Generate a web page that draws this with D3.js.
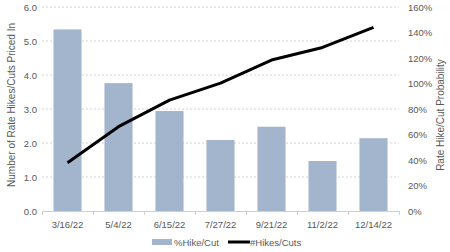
<!DOCTYPE html>
<html>
<head>
<meta charset="utf-8">
<script src="https://cdn.jsdelivr.net/npm/d3@7"></script>
<style>
  body { margin: 0; background: #fff; }
  text { font-family: "Liberation Sans", Arial, sans-serif; fill: #595959; }
</style>
</head>
<body>
<div id="chart"></div>
<script>
// meeting dates
var dates = ["3/16/22", "5/4/22", "6/15/22", "7/27/22", "9/21/22", "11/2/22", "12/14/22"];
// %Hike/Cut (right axis)
var hikePct = [142.4, 100.3, 78.4, 55.7, 66.1, 39.2, 57.1];
// #Hikes/Cuts (left axis)
var hikeCount = [1.42, 2.48, 3.26, 3.76, 4.44, 4.81, 5.40];
var leftTicks = [0, 1, 2, 3, 4, 5, 6];
var rightTicks = [0, 20, 40, 60, 80, 100, 120, 140, 160];

var width = 450, height = 252;
var margin = { top: 7, right: 51, bottom: 41, left: 42 };
var w = width - margin.left - margin.right,
    h = height - margin.top - margin.bottom;

var svg = d3.select("#chart").append("svg")
    .attr("width", width)
    .attr("height", height);

var g = svg.append("g")
    .attr("transform", `translate(${margin.left}, ${margin.top})`);

var x = d3.scaleBand().domain(dates).range([0, w]).paddingInner(0.45).paddingOuter(0.225);
var xb = d3.scaleBand().domain(dates).range([0, w]);
var yL = d3.scaleLinear().domain([0, 6]).range([h, 0]);
var yR = d3.scaleLinear().domain([0, 160]).range([h, 0]);

// gridlines
g.selectAll(".grid")
    .data(leftTicks.slice(1))
    .enter().append("line")
    .attr("x1", 0).attr("x2", w)
    .attr("y1", d => yL(d)).attr("y2", d => yL(d))
    .style("stroke", "#d4d4d4")
    .style("stroke-width", 1)
    .style("stroke-dasharray", "2,2");

// bars
g.selectAll(".bar")
    .data(hikePct)
    .enter().append("rect")
    .attr("x", (d, i) => x(dates[i]))
    .attr("width", x.bandwidth())
    .attr("y", d => yR(d))
    .attr("height", d => h - yR(d))
    .style("fill", "#a2b5cc");

// baseline + category ticks
g.append("line")
    .attr("x1", 0).attr("x2", w)
    .attr("y1", h + 0.5).attr("y2", h + 0.5)
    .style("stroke", "#d0d0d0");
g.selectAll(".xtick")
    .data(dates.concat(["end"]))
    .enter().append("line")
    .attr("x1", (d, i) => Math.round(i * xb.bandwidth()) + 0.5)
    .attr("x2", (d, i) => Math.round(i * xb.bandwidth()) + 0.5)
    .attr("y1", h).attr("y2", h + 4)
    .style("stroke", "#d0d0d0");

// line
var line = d3.line()
    .x((d, i) => xb(dates[i]) + xb.bandwidth() / 2)
    .y(d => yL(d));
g.append("path")
    .datum(hikeCount)
    .attr("d", line)
    .style("fill", "none")
    .style("stroke", "#000")
    .style("stroke-width", 3)
    .style("stroke-linejoin", "round");

// axis labels
g.selectAll(".xl")
    .data(dates)
    .enter().append("text")
    .attr("x", d => xb(d) + xb.bandwidth() / 2)
    .attr("y", h + 17)
    .attr("text-anchor", "middle")
    .style("font-size", "9.5px")
    .text(d => d);

g.selectAll(".yl")
    .data(leftTicks)
    .enter().append("text")
    .attr("x", -5)
    .attr("y", d => yL(d) + 3.5)
    .attr("text-anchor", "end")
    .style("font-size", "9.5px")
    .text(d => d3.format(".1f")(d));

g.selectAll(".yr")
    .data(rightTicks)
    .enter().append("text")
    .attr("x", w + 9)
    .attr("y", d => yR(d) + 3.5)
    .attr("text-anchor", "start")
    .style("font-size", "9.5px")
    .text(d => d + "%");

// axis titles
svg.append("text")
    .attr("transform", `translate(15, ${margin.top + h / 2 - 4}) rotate(-90)`)
    .attr("text-anchor", "middle")
    .style("font-size", "10px")
    .text("Number of Rate Hikes/Cuts Priced In");

svg.append("text")
    .attr("transform", `translate(444, ${margin.top + h / 2 + 6}) rotate(-90)`)
    .attr("text-anchor", "middle")
    .style("font-size", "10px")
    .text("Rate Hike/Cut Probability");

// legend
var lg = svg.append("g").attr("transform", "translate(152, 243)");
lg.append("rect")
    .attr("x", 0).attr("y", -4)
    .attr("width", 20).attr("height", 6)
    .style("fill", "#a2b5cc");
lg.append("text")
    .attr("x", 22).attr("y", 2.5)
    .style("font-size", "9.5px")
    .text("%Hike/Cut");
lg.append("line")
    .attr("x1", 76).attr("x2", 98)
    .attr("y1", -1).attr("y2", -1)
    .style("stroke", "#000")
    .style("stroke-width", 3);
lg.append("text")
    .attr("x", 98).attr("y", 2.5)
    .style("font-size", "9.5px")
    .text("#Hikes/Cuts");
</script>
</body>
</html>
